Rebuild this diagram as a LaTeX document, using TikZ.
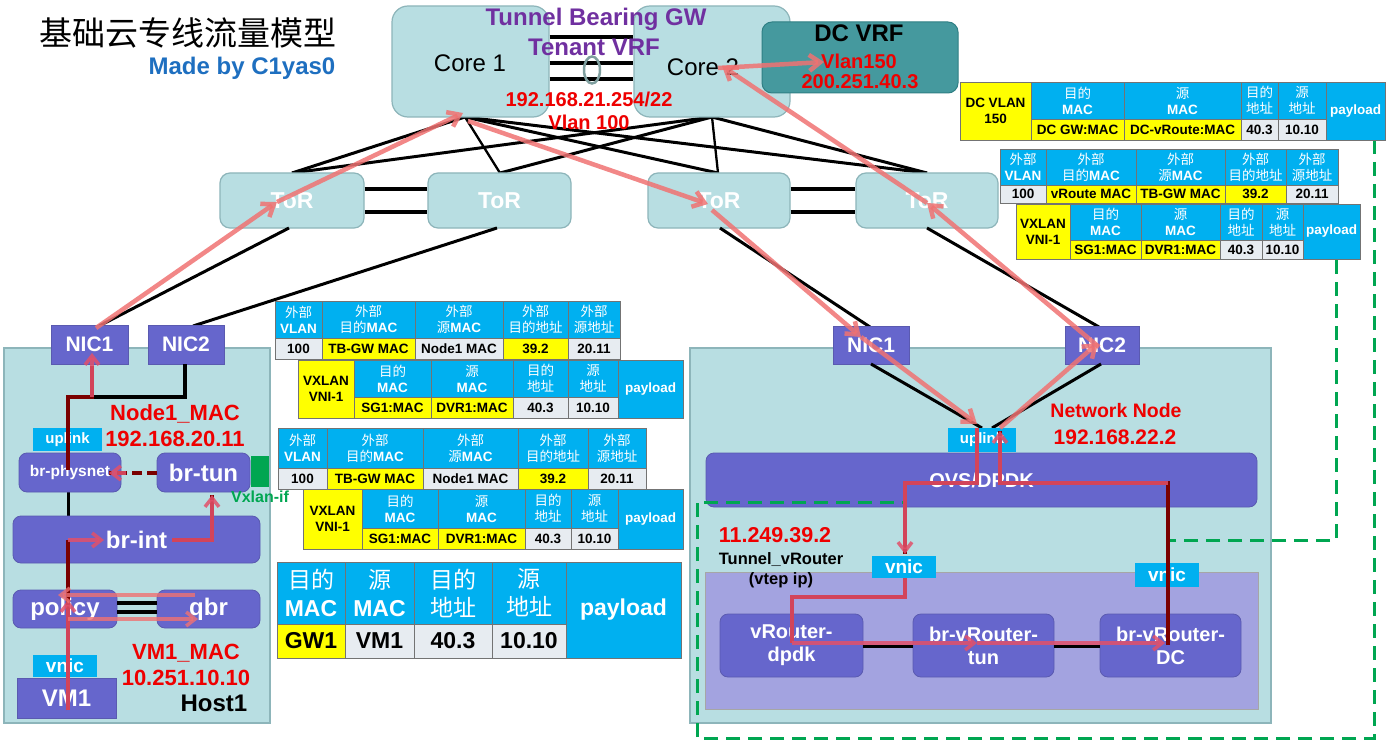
\documentclass[tikz,border=0pt]{standalone}
\usepackage{fontspec}
\setmainfont{Liberation Sans}
\newfontfamily\cjkf{Noto Sans CJK SC}
\usetikzlibrary{arrows.meta}
\definecolor{tealf}{HTML}{B8DEE2}
\definecolor{teald}{HTML}{8DB5BA}
\definecolor{slate}{HTML}{6666CC}
\definecolor{slated}{HTML}{5A5AB0}
\definecolor{lpurp}{HTML}{A3A3E0}
\definecolor{dcvrf}{HTML}{45999E}
\definecolor{dcvrfd}{HTML}{2F7F84}
\definecolor{cyanl}{HTML}{00B0F0}
\definecolor{ylw}{HTML}{FFFF00}
\definecolor{gry}{HTML}{E7ECF1}
\definecolor{redt}{HTML}{EE0000}
\definecolor{purp}{HTML}{7030A0}
\definecolor{blu}{HTML}{1E6FC0}
\definecolor{grn}{HTML}{00A651}
\definecolor{maroonc}{HTML}{7A0000}
\definecolor{salm}{HTML}{F07272}
\definecolor{pnk}{HTML}{E2506A}
\definecolor{ellg}{HTML}{7F9F9F}
\newcommand\fsz[2]{\fontsize{#1}{#2}\selectfont}
\newcommand\zh[1]{{\cjkf\mdseries #1}}
\newcommand\bx[7]{\node[#2, minimum width={#5-#3}, minimum height={#6-#4}, inner sep=0pt] (#1) at ({(#3+#5)/2},{(#4+#6)/2}) {#7};}
\newcommand\hc[6][]{\node[cell, fill=cyanl, text=white, #1, minimum width={#4-#2}, minimum height={#5-#3}] at ({(#2+#4)/2},{(#3+#5)/2}) {#6};}
\newcommand\dc[7][]{\node[cell, fill=#2, text=black, #1, minimum width={#5-#3}, minimum height={#6-#4}] at ({(#3+#5)/2},{(#4+#6)/2}) {#7};}
\begin{document}
\begin{tikzpicture}[x=1pt,y=-1pt,
  core/.style={draw=teald, fill=tealf, line width=1.2pt, rounded corners=16pt},
  torbox/.style={draw=teald, fill=tealf, line width=1.2pt, rounded corners=10pt, text=white, font=\fsz{23}{26}\bfseries},
  hostbox/.style={draw=teald, fill=tealf, line width=1.2pt},
  dcbox/.style={draw=dcvrfd, fill=dcvrf, line width=1pt, rounded corners=10pt},
  nicbox/.style={draw=slated, fill=slate, line width=0.8pt, text=white, font=\fsz{21}{24}\bfseries},
  swbox/.style={draw=slated, fill=slate, line width=0.8pt, rounded corners=8pt, text=white, align=center, font=\fsz{24}{28}\bfseries},
  vmbox/.style={draw=black!35, fill=lpurp, line width=0.8pt},
  lbl/.style={fill=cyanl, text=white, font=\fsz{15}{17}\bfseries},
  cell/.style={draw=black!55, line width=0.5pt, inner sep=0pt, align=center, font=\fsz{13.5}{16}\bfseries},
  big/.style={font=\fsz{23}{28}\bfseries},
  rtxt/.style={text=redt, font=\fsz{20}{24}\bfseries},
  blk/.style={draw=black, line width=3pt},
  mr/.style={draw=maroonc, line width=3.5pt},
  pk/.style={draw=pnk, line width=3.5pt, opacity=0.85, -{Straight Barb[length=9pt, width=14pt]}},
  pkl/.style={draw=pnk, line width=3.5pt, opacity=0.85},
  sal/.style={draw=salm, line width=4.5pt, opacity=0.85, -{Straight Barb[length=11pt, width=16pt]}},
  gdash/.style={draw=grn, line width=3pt, dash pattern=on 14pt off 8pt}
]
\useasboundingbox (0,0) rectangle (1391,746);
\fill[white] (0,0) rectangle (1391,746);

% ---------- title ----------
\node[font=\fsz{33}{36}\cjkf] (title) at (188,33) {基础云专线流量模型};
\node[text=blu, font=\fsz{24}{28}\bfseries] (made) at (242,68) {Made by C1yas0};

% ---------- core / tor links ----------
\coordinate (c1b) at (465,117);
\coordinate (c2b) at (712,117);
\coordinate (t1t) at (292,173);
\coordinate (t2t) at (500,173);
\coordinate (t3t) at (718,173);
\coordinate (t4t) at (927,173);
\draw[blk] (c1b) -- (t1t);
\draw[blk, line width=2.3pt] (c1b) -- (t2t);
\draw[blk] (c1b) -- (t3t);
\draw[blk] (c1b) -- (t4t);
\draw[blk] (c2b) -- (t1t);
\draw[blk] (c2b) -- (t2t);
\draw[blk, line width=2.3pt] (c2b) -- (t3t);
\draw[blk] (c2b) -- (t4t);

% ---------- cores ----------
\bx{core1}{core}{392}{6}{549}{117}{}
\bx{core2}{core}{634}{6}{790}{117}{}
\node[font=\fsz{24}{28}] (c1t) at (470,63) {Core 1};
\node[font=\fsz{24}{28}] (c2t) at (703,67) {Core 2};
\foreach \yy in {37,63,79} \draw[blk, line width=4pt] (core1.east |- 0,\yy) -- (core2.west |- 0,\yy);
\draw[draw=ellg, line width=2.5pt] (592,70) ellipse [x radius=8, y radius=13.5];
\bx{dcvrf}{dcbox}{762}{22}{958}{93}{}
\node[font=\fsz{24}{28}\bfseries] (dct) at (859,33) {DC VRF};
\node[rtxt] (dcv) at (859,61) {Vlan150};
\node[rtxt] (dcip) at (860,82) {200.251.40.3};
\node[text=purp, font=\fsz{24}{28}\bfseries] (tbgw) at (596,19) {Tunnel Bearing GW};
\node[text=purp, font=\fsz{24}{28}\bfseries] (tvrf) at (594,47) {Tenant VRF};
\node[rtxt] (gwip) at (589,99) {192.168.21.254/22};
\node[rtxt] (gwvl) at (589,122) {Vlan 100};

% ---------- ToR ----------
\bx{tor1}{torbox}{220}{173}{364}{228}{ToR}
\bx{tor2}{torbox}{428}{173}{571}{228}{ToR}
\bx{tor3}{torbox}{648}{173}{790}{228}{ToR}
\bx{tor4}{torbox}{856}{173}{998}{228}{ToR}
\foreach \yy in {189,212} {
  \draw[blk, line width=4.5pt] (tor1.east |- 0,\yy) -- (tor2.west |- 0,\yy);
  \draw[blk, line width=4.5pt] (tor3.east |- 0,\yy) -- (tor4.west |- 0,\yy);
}
\coordinate (t1b) at (289,228);
\coordinate (t2b) at (497,228);
\coordinate (t3b) at (720,228);
\coordinate (t4b) at (927,228);
\coordinate (ln1t) at (99,326);
\coordinate (ln2t) at (193,326);
\coordinate (rn1t) at (870,327);
\coordinate (rn2t) at (1099,327);
\draw[blk] (t1b) -- (ln1t);
\draw[blk] (t2b) -- (ln2t);
\draw[blk] (t3b) -- (rn1t);
\draw[blk] (t4b) -- (rn2t);

% ---------- Host1 ----------
\bx{host1}{hostbox}{4}{348}{270}{723}{}
\bx{lnic1}{nicbox}{51}{325}{128}{364}{NIC1}
\bx{lnic2}{nicbox}{148}{325}{224}{364}{NIC2}
\coordinate (h15) at (68,492);
\coordinate (h16) at (68,516);
\draw[blk] (h15) -- (h16);
\bx{upl1}{lbl}{33}{428}{102}{451}{uplink}
\bx{brphy}{swbox, font=\fsz{15.5}{18}\bfseries}{19}{453}{121}{492}{br-physnet}
\bx{brtun}{swbox}{157}{453}{250}{492}{br-tun}
\bx{vxif}{fill=grn}{251}{456}{269}{487}{}
\node[text=grn, font=\fsz{16}{18}\bfseries] (vxl) at (260,497) {Vxlan-if};
\bx{brint}{swbox}{13}{516}{260}{563}{br-int}
\bx{policy}{swbox}{13}{590}{117}{628}{policy}
\bx{qbr}{swbox}{157}{590}{260}{628}{qbr}
\foreach \yy in {603,612} \draw[blk, line width=4pt] (policy.east |- 0,\yy) -- (qbr.west |- 0,\yy);
\bx{vnic1}{lbl, font=\fsz{19}{21}\bfseries}{33}{655}{97}{677}{vnic}
\bx{vm1}{nicbox, font=\fsz{24}{28}\bfseries}{17}{678}{116}{718}{VM1}
\node[rtxt, font=\fsz{22}{26}\bfseries] (n1mac) at (175,414) {Node1\_MAC};
\node[rtxt, font=\fsz{22}{26}\bfseries] (n1ip) at (175,439) {192.168.20.11};
\node[rtxt, font=\fsz{22}{26}\bfseries] (vmmac) at (186,653) {VM1\_MAC};
\node[rtxt, font=\fsz{22}{26}\bfseries] (vmip) at (186,678) {10.251.10.10};
\node[font=\fsz{24}{28}\bfseries] (host1t) at (214,703) {Host1};

% host paths
\coordinate (h1) at (68,710);
\coordinate (h2) at (68,592);
\coordinate (h2a) at (68,600);
\coordinate (h3) at (68,540);
\coordinate (h4) at (104,540);
\coordinate (h5) at (172,540);
\coordinate (h6) at (212,540);
\coordinate (h7) at (212,495);
\coordinate (h8) at (157,473);
\coordinate (h8a) at (126,473);
\coordinate (h9) at (109,473);
\coordinate (h10) at (68,470);
\coordinate (h11) at (68,397);
\coordinate (h12) at (92,397);
\coordinate (h12b) at (92,366);
\coordinate (h13) at (92,353);
\coordinate (h14) at (185,397);
\coordinate (h14t) at (185,364);
\draw[blk, line width=3.5pt] (h11) -- (h14) -- (h14t);
\draw[mr] (h1) -- (h2) -- (h3);
\draw[pk] (h1) -- (h2a);
\draw[pk] (h3) -- (h4);
\draw[mr] (h5) -- (h6) -- (h7);
\draw[pk] (h5) -- (h6) -- (h7);
\draw[mr, dash pattern=on 10pt off 5pt] (h8) -- (h9);
\draw[pk] (h8a) -- (h9);
\draw[mr] (h10) -- (h11) -- (h12) -- (h12b);
\draw[pk] (h12) -- (h13);
\coordinate (q1) at (195,595);
\coordinate (q2) at (58,595);
\coordinate (q3) at (68,619);
\coordinate (q4) at (198,619);
\draw[sal, line width=3.5pt, opacity=0.8, -{Straight Barb[length=9pt, width=14pt]}] (q1) -- (q2);
\draw[sal, line width=3.5pt, opacity=0.8, -{Straight Barb[length=9pt, width=14pt]}] (q3) -- (q4);

% ---------- Network node ----------
\bx{nnode}{hostbox}{690}{348}{1271}{723}{}
\bx{rnic1}{nicbox}{833}{326}{909}{364}{NIC1}
\bx{rnic2}{nicbox}{1065}{326}{1139}{364}{NIC2}
\coordinate (rn1b) at (871,364);
\coordinate (rn2b) at (1101,364);
\coordinate (up2a) at (982,428);
\coordinate (up2b) at (992,428);
\draw[blk] (rn1b) -- (up2a);
\draw[blk] (rn2b) -- (up2b);
\bx{ovs}{swbox, font=\fsz{20}{24}\bfseries}{706}{453}{1257}{507}{OVS/DPDK}
\bx{upl2}{lbl}{948}{428}{1016}{452}{uplink}
\bx{vrvm}{vmbox}{705}{572}{1258}{709}{}
\bx{vrd}{swbox, font=\fsz{20}{23}\bfseries}{720}{614}{863}{677}{vRouter-\\dpdk}
\bx{vrt}{swbox, font=\fsz{20}{23}\bfseries}{913}{614}{1054}{677}{br-vRouter-\\tun}
\bx{vrdc}{swbox, font=\fsz{20}{23}\bfseries}{1100}{614}{1241}{677}{br-vRouter-\\DC}
\draw[blk] (vrd.east |- 0,646) -- (vrt.west |- 0,646);
\draw[blk] (vrt.east |- 0,646) -- (vrdc.west |- 0,646);
\bx{vnicl}{lbl, font=\fsz{19}{21}\bfseries}{872}{556}{936}{578}{vnic}
\bx{vnicr}{lbl, font=\fsz{19}{21}\bfseries}{1135}{563}{1199}{587}{vnic}
\node[rtxt, font=\fsz{19.5}{23}\bfseries] (nnt) at (1116,411) {Network Node};
\node[rtxt, font=\fsz{21}{25}\bfseries] (nnip) at (1115,437) {192.168.22.2};
\node[rtxt, font=\fsz{21.5}{25}\bfseries] (vtip) at (775,535) {11.249.39.2};
\node[font=\fsz{16.5}{20}\bfseries, align=center] (tvr) at (781,570) {Tunnel\_vRouter\\(vtep ip)};

% ---------- green dashed ----------
\coordinate (g1) at (1374,140);
\coordinate (g2) at (1374,738);
\coordinate (g3) at (697,738);
\coordinate (g4) at (697,502);
\coordinate (g5) at (906,502);
\coordinate (g6) at (1336,260);
\coordinate (g7) at (1336,540);
\coordinate (g8) at (1170,540);
\draw[gdash] (g1) -- (g2) -- (g3) -- (g4) -- (g5);
\draw[gdash] (g6) -- (g7) -- (g8);

% network paths
\coordinate (n1) at (977,428);
\coordinate (n2) at (977,483);
\coordinate (n3) at (905,483);
\coordinate (n4) at (905,554);
\coordinate (n5) at (905,578);
\coordinate (n6) at (905,597);
\coordinate (n7) at (792,597);
\coordinate (n8) at (792,643);
\coordinate (n9) at (977,643);
\coordinate (n10) at (1165,643);
\coordinate (n11) at (1168,645);
\coordinate (n12) at (1168,483);
\coordinate (n13) at (1000,483);
\coordinate (n14) at (1000,431);
\draw[mr] (n1) -- (n2) -- (n3) -- (n4);
\draw[pk] (n1) -- (n2) -- (n3) -- (n4);
\draw[mr] (n5) -- (n6) -- (n7) -- (n8);
\draw[pkl] (n5) -- (n6) -- (n7) -- (n8);
\draw[pk] (n8) -- (n9);
\draw[pk] (n9) -- (n10);
\draw[mr] (n11) -- (n12) -- (n13) -- (n14);
\draw[pk] (n12) -- (n13) -- (n14);

% ---------- tables ----------
% DC VLAN table
\dc{ylw}{960}{82}{1031}{140}{DC VLAN\\150}
\hc{1031}{82}{1124}{119}{\zh{目的}\\MAC}
\hc{1124}{82}{1241}{119}{\zh{源}\\MAC}
\hc{1241}{82}{1278}{119}{\zh{目的}\\\zh{地址}}
\hc{1278}{82}{1326}{119}{\zh{源}\\\zh{地址}}
\hc{1326}{82}{1385}{140}{payload}
\dc{ylw}{1031}{119}{1124}{140}{DC GW:MAC}
\dc{ylw}{1124}{119}{1241}{140}{DC-vRoute:MAC}
\dc{gry}{1241}{119}{1278}{140}{40.3}
\dc{gry}{1278}{119}{1326}{140}{10.10}
% right outer table
\hc{1000}{149}{1046}{185}{\zh{外部}\\VLAN}
\hc{1046}{149}{1136}{185}{\zh{外部}\\\zh{目的}MAC}
\hc{1136}{149}{1225}{185}{\zh{外部}\\\zh{源}MAC}
\hc{1225}{149}{1286}{185}{\zh{外部}\\\zh{目的地址}}
\hc{1286}{149}{1338}{185}{\zh{外部}\\\zh{源地址}}
\dc{gry}{1000}{185}{1046}{203}{100}
\dc{ylw}{1046}{185}{1136}{203}{vRoute MAC}
\dc{ylw}{1136}{185}{1225}{203}{TB-GW MAC}
\dc{ylw}{1225}{185}{1286}{203}{39.2}
\dc{gry}{1286}{185}{1338}{203}{20.11}
% right vxlan table
\dc{ylw}{1016}{204}{1070}{259}{VXLAN\\VNI-1}
\hc{1070}{204}{1141}{240}{\zh{目的}\\MAC}
\hc{1141}{204}{1220}{240}{\zh{源}\\MAC}
\hc{1220}{204}{1262}{240}{\zh{目的}\\\zh{地址}}
\hc{1262}{204}{1303}{240}{\zh{源}\\\zh{地址}}
\hc{1303}{204}{1360}{259}{payload}
\dc{ylw}{1070}{240}{1141}{259}{SG1:MAC}
\dc{ylw}{1141}{240}{1220}{259}{DVR1:MAC}
\dc{gry}{1220}{240}{1262}{259}{40.3}
\dc{gry}{1262}{240}{1303}{259}{10.10}
% table A
\hc{275}{301}{322}{338}{\zh{外部}\\VLAN}
\hc{322}{301}{415}{338}{\zh{外部}\\\zh{目的}MAC}
\hc{415}{301}{503}{338}{\zh{外部}\\\zh{源}MAC}
\hc{503}{301}{568}{338}{\zh{外部}\\\zh{目的地址}}
\hc{568}{301}{620}{338}{\zh{外部}\\\zh{源地址}}
\dc{gry}{275}{338}{322}{359}{100}
\dc{ylw}{322}{338}{415}{359}{TB-GW MAC}
\dc{gry}{415}{338}{503}{359}{Node1 MAC}
\dc{ylw}{503}{338}{568}{359}{39.2}
\dc{gry}{568}{338}{620}{359}{20.11}
% table B
\dc{ylw}{298}{360}{354}{418}{VXLAN\\VNI-1}
\hc{354}{360}{431}{397}{\zh{目的}\\MAC}
\hc{431}{360}{513}{397}{\zh{源}\\MAC}
\hc{513}{360}{568}{397}{\zh{目的}\\\zh{地址}}
\hc{568}{360}{618}{397}{\zh{源}\\\zh{地址}}
\hc{618}{360}{683}{418}{payload}
\dc{ylw}{354}{397}{431}{418}{SG1:MAC}
\dc{ylw}{431}{397}{513}{418}{DVR1:MAC}
\dc{gry}{513}{397}{568}{418}{40.3}
\dc{gry}{568}{397}{618}{418}{10.10}
% table C
\hc{278}{428}{327}{468}{\zh{外部}\\VLAN}
\hc{327}{428}{423}{468}{\zh{外部}\\\zh{目的}MAC}
\hc{423}{428}{518}{468}{\zh{外部}\\\zh{源}MAC}
\hc{518}{428}{588}{468}{\zh{外部}\\\zh{目的地址}}
\hc{588}{428}{646}{468}{\zh{外部}\\\zh{源地址}}
\dc{gry}{278}{468}{327}{489}{100}
\dc{ylw}{327}{468}{423}{489}{TB-GW MAC}
\dc{gry}{423}{468}{518}{489}{Node1 MAC}
\dc{ylw}{518}{468}{588}{489}{39.2}
\dc{gry}{588}{468}{646}{489}{20.11}
% table D
\dc{ylw}{303}{489}{362}{549}{VXLAN\\VNI-1}
\hc{362}{489}{438}{528}{\zh{目的}\\MAC}
\hc{438}{489}{525}{528}{\zh{源}\\MAC}
\hc{525}{489}{571}{528}{\zh{目的}\\\zh{地址}}
\hc{571}{489}{618}{528}{\zh{源}\\\zh{地址}}
\hc{618}{489}{683}{549}{payload}
\dc{ylw}{362}{528}{438}{549}{SG1:MAC}
\dc{ylw}{438}{528}{525}{549}{DVR1:MAC}
\dc{gry}{525}{528}{571}{549}{40.3}
\dc{gry}{571}{528}{618}{549}{10.10}
% table E
\hc[big]{277}{562}{345}{624}{\zh{目的}\\MAC}
\hc[big]{345}{562}{414}{624}{\zh{源}\\MAC}
\hc[big]{414}{562}{492}{624}{\zh{目的}\\\zh{地址}}
\hc[big]{492}{562}{566}{624}{\zh{源}\\\zh{地址}}
\hc[big]{566}{562}{681}{658}{payload}
\dc[big]{ylw}{277}{624}{345}{658}{GW1}
\dc[big]{gry}{345}{624}{414}{658}{VM1}
\dc[big]{gry}{414}{624}{492}{658}{40.3}
\dc[big]{gry}{492}{624}{566}{658}{10.10}

% ---------- salmon flow arrows ----------
\coordinate (s1a) at (96,328);
\coordinate (s1b) at (277,202);
\coordinate (s2b) at (463,113);
\coordinate (s3a) at (468,121);
\coordinate (s3b) at (708,204);
\coordinate (s4a) at (712,210);
\coordinate (s4b) at (861,337);
\coordinate (s5b) at (977,424);
\coordinate (s6a) at (1000,428);
\coordinate (s6b) at (1098,343);
\coordinate (s7a) at (1099,347);
\coordinate (s7b) at (927,203);
\coordinate (s8b) at (722,66);
\coordinate (s9a) at (718,68);
\coordinate (s9b) at (824,62);
\draw[sal] (s1a) -- (s1b);
\draw[sal] (s1b) -- (s2b);
\draw[sal] (s3a) -- (s3b);
\draw[sal] (s4a) -- (s4b);
\draw[sal] (s4b) -- (s5b);
\draw[sal] (s6a) -- (s6b);
\draw[sal] (s7a) -- (s7b);
\draw[sal] (s7b) -- (s8b);
\draw[sal] (s9a) -- (s9b);
\end{tikzpicture}
\end{document}
